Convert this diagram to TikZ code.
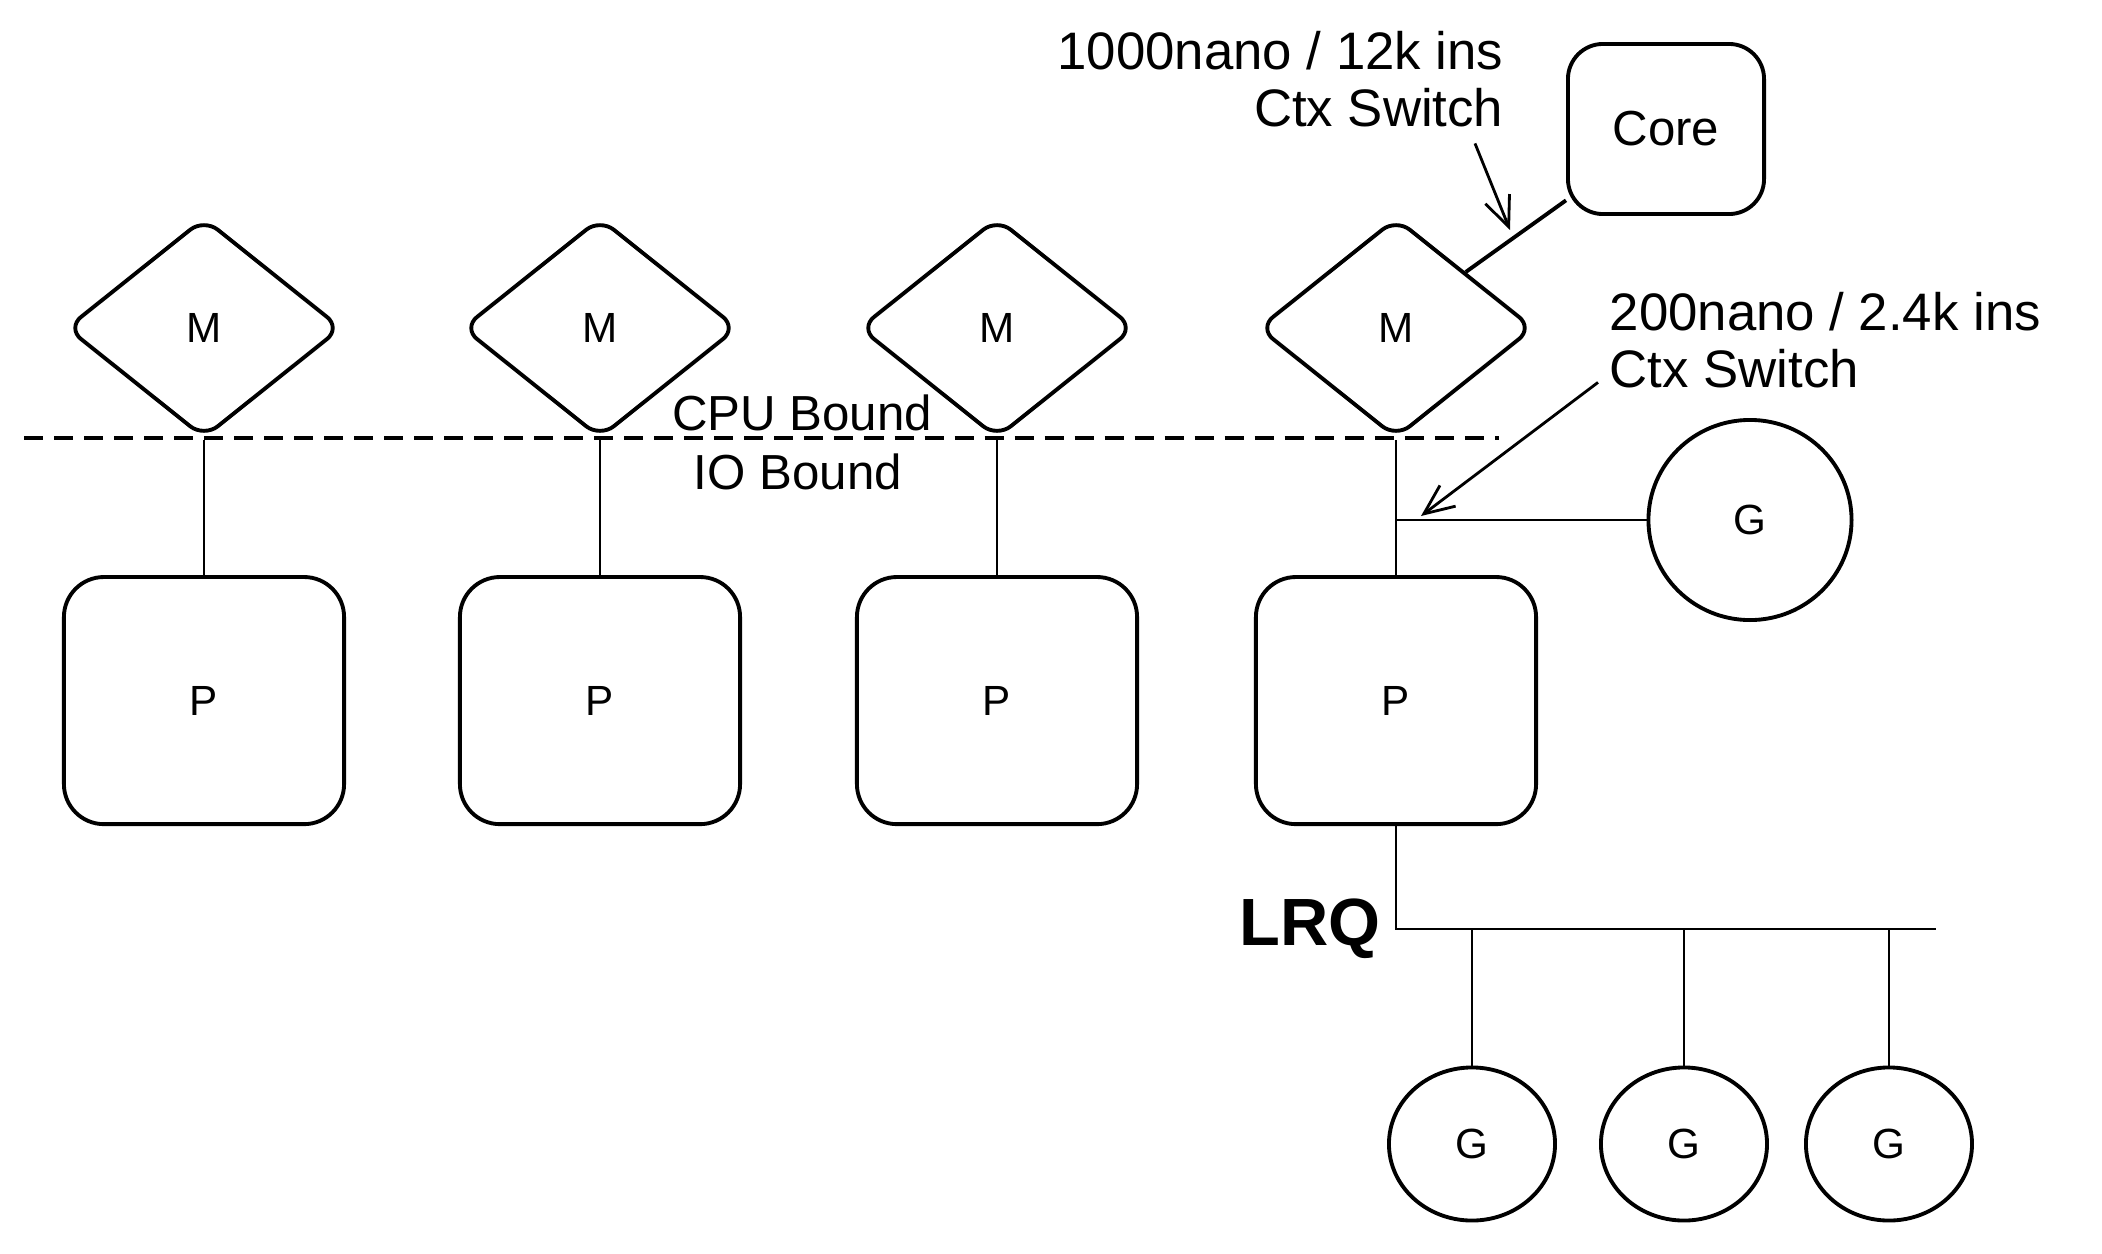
\documentclass[tikz,border=0pt]{standalone}
\usepackage{fontspec}
\setmainfont{Liberation Sans}
\usepackage{tikz}
\usetikzlibrary{shapes.geometric, arrows.meta, positioning}

\begin{document}
\begin{tikzpicture}[
    x=0.01cm, y=-0.01cm,
    node distance=1.35cm and 0.4cm,
    mnode/.style={diamond, draw=black, line width=1.1pt, rounded corners=5pt, minimum width=2.75cm, minimum height=2.2cm, inner sep=0pt, font=\fontsize{12}{14}\selectfont},
    pnode/.style={rectangle, draw=black, line width=1.1pt, rounded corners=0.4cm, minimum width=2.8cm, minimum height=2.47cm, font=\fontsize{12}{14}\selectfont},
    corebox/.style={rectangle, draw=black, line width=1.1pt, rounded corners=0.35cm, minimum width=1.96cm, minimum height=1.7cm, font=\fontsize{14}{16}\selectfont},
    gnode/.style={ellipse, draw=black, line width=1.1pt, minimum width=1.66cm, minimum height=1.53cm, inner sep=0pt, font=\fontsize{12}{14}\selectfont},
    note/.style={inner sep=0pt, font=\fontsize{15}{16}\selectfont},
    bound/.style={inner sep=0pt, font=\fontsize{14}{16}\selectfont},
    link/.style={draw=black, semithick},
    pointer/.style={draw=black, line width=0.8pt, -{Straight Barb[length=0.3cm, width=0.26cm]}}
]
\useasboundingbox (0,0) rectangle (2102,1254);

\node[mnode] (m1) at (204,328) {M};
\node[mnode] (m2) at (600,328) {M};
\node[mnode] (m3) at (997,328) {M};
\node[mnode] (m4) at (1396,328) {M};

\node[pnode, below=of m1] (p1) {P};
\node[pnode, below=of m2] (p2) {P};
\node[pnode, below=of m3] (p3) {P};
\node[pnode, below=of m4] (p4) {P};

\node[corebox] (core) at (1666,129) {Core};
\node[gnode, minimum width=2.03cm, minimum height=2.0cm] (g0) at (1750,520) {G};

\node[gnode] (g1) at (1472,1144) {G};
\node[gnode, right=0.42cm of g1] (g2) {G};
\node[gnode, right=0.35cm of g2] (g3) {G};

\node[note, align=right, anchor=north east] (costA) at (1504,31) {1000nano / 12k ins\\Ctx Switch};
\node[note, align=left, anchor=north west] (costB) at (1609,292) {200nano / 2.4k ins\\Ctx Switch};

\node[bound] (cpu) at (802,413) {CPU Bound};
\node[bound] (io) at (798,472) {IO Bound};

\draw[line width=1.2pt, dash pattern=on 0.19cm off 0.11cm] (24,438) -- (1499,438);

\draw[link] (m1) -- (p1);
\draw[link] (m2) -- (p2);
\draw[link] (m3) -- (p3);
\draw[link] (m4) -- (p4);

\draw[link, line width=1.1pt] (m4.north east) -- (core);

\coordinate (tap) at (m4 |- g0);
\draw[link] (tap) -- (g0);

\coordinate (qEnd) at (1936,929);
\coordinate (qTurn) at (p4 |- qEnd);
\draw[link] (p4) |- (qEnd);
\node[font=\fontsize{19}{22}\selectfont\bfseries, inner sep=0pt, left=0.15cm of qTurn] (lrq) {LRQ};

\draw[link] (g1 |- qEnd) -- (g1);
\draw[link] (g2 |- qEnd) -- (g2);
\draw[link] (g3 |- qEnd) -- (g3);

\coordinate (hitA) at (1510,230);
\coordinate (hitB) at (1421,516);
\draw[pointer] ([xshift=-0.29cm, yshift=-0.16cm]costA.south east) -- (hitA);
\draw[pointer] ([xshift=-0.11cm, yshift=0.06cm]costB.south west) -- (hitB);

\end{tikzpicture}
\end{document}
